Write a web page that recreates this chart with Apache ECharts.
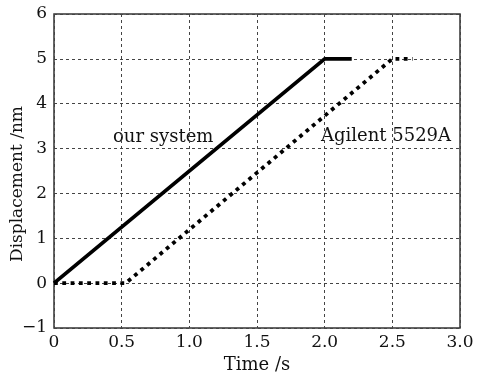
<!DOCTYPE html>
<html>
<head>
<meta charset="utf-8">
<script src="https://cdn.jsdelivr.net/npm/echarts@6/dist/echarts.min.js"></script>
<style>
  html, body { margin: 0; padding: 0; background: #fff; }
  #chart { width: 492px; height: 375px; }
</style>
</head>
<body>
<div id="chart"></div>
<script>
// 数据
const oursTime = [0, 2.0, 2.2];
const oursDisp = [0, 5, 5];
const agilentTime = [0, 0.53, 2.5, 2.65];
const agilentDisp = [0, 0, 5, 5];
const xTicks = ["0", "0.5", "1.0", "1.5", "2.0", "2.5", "3.0"];

const font = "DejaVu Serif";
const chart = echarts.init(document.getElementById("chart"));

const pairs = (xs, ys) => xs.map((x, i) => [x, ys[i]]);

const option = {
  animation: false,
  grid: {
    left: 54, right: 32, top: 14, bottom: 47,
    outerBoundsMode: "none", containLabel: false,
    show: true, borderColor: "#333", borderWidth: 1.5,
  },
  xAxis: {
    type: "value",
    min: 0,
    max: 3,
    interval: 0.5,
    name: "Time /s",
    nameLocation: "middle",
    nameGap: 27,
    nameTextStyle: { fontFamily: font, fontSize: 18, color: "#111" },
    axisLine: { show: false },
    axisTick: { show: false },
    axisLabel: {
      fontFamily: font, fontSize: 17, color: "#111", margin: 6,
      formatter: (v) => xTicks[Math.round(v * 2)],
    },
    splitLine: { show: true, lineStyle: { type: [3, 3], color: "#444", width: 1 } },
  },
  yAxis: {
    type: "value",
    min: -1,
    max: 6,
    interval: 1,
    axisLine: { show: false },
    axisTick: { show: false },
    axisLabel: {
      fontFamily: font, fontSize: 17, color: "#111", margin: 7,
      formatter: (v) => String(v).replace("-", "\u2212"),
    },
    splitLine: { show: true, lineStyle: { type: [3, 3], color: "#444", width: 1 } },
  },
  graphic: [
    {
      type: "text", x: 18, y: 184, rotation: Math.PI / 2,
      style: { text: "Displacement /nm", fontFamily: font, fontSize: 17, fill: "#111", align: "center", verticalAlign: "middle" },
    },
    { type: "text", left: 113, top: 128, style: { text: "our system", fontFamily: font, fontSize: 18, fill: "#111" } },
    { type: "text", left: 321, top: 127, style: { text: "Agilent 5529A", fontFamily: font, fontSize: 18, fill: "#111" } },
  ],
  series: [
    {
      name: "our system",
      type: "line",
      data: pairs(oursTime, oursDisp),
      showSymbol: false,
      lineStyle: { color: "#000", width: 3.8 },
    },
    {
      name: "Agilent 5529A",
      type: "line",
      data: pairs(agilentTime, agilentDisp),
      showSymbol: false,
      lineStyle: { color: "#000", width: 3.8, type: [3.8, 4.5] },
    },
  ],
};
chart.setOption(option);
</script>
</body>
</html>
